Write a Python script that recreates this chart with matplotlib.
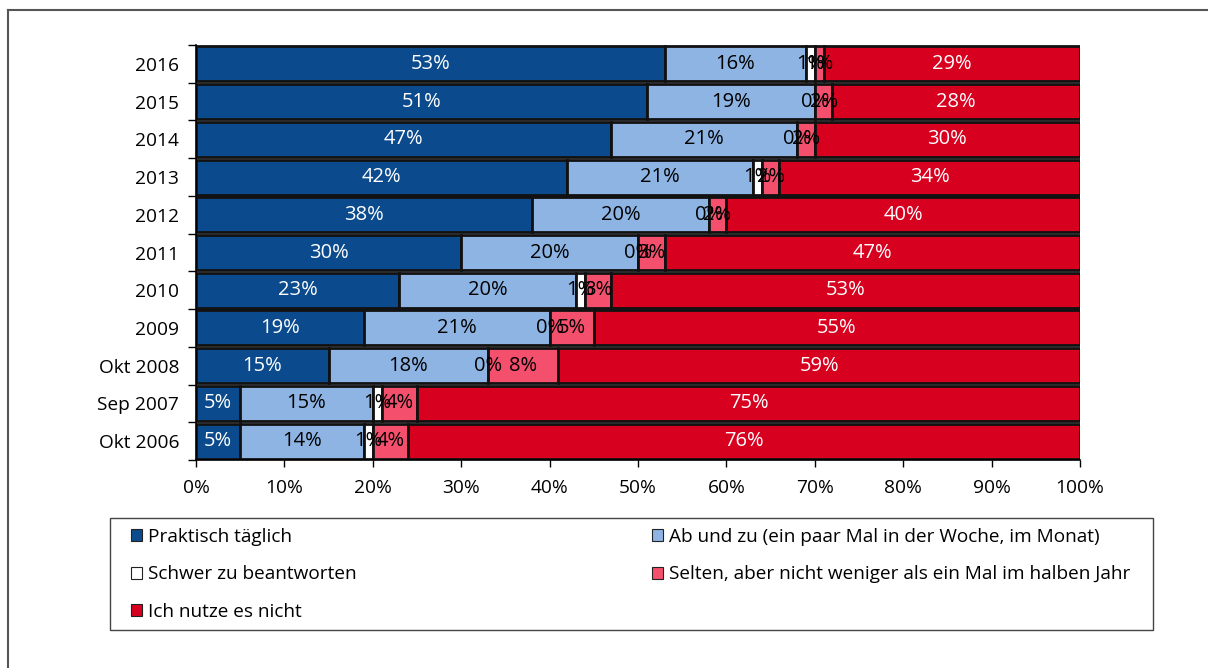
import matplotlib
matplotlib.use("Agg")
import matplotlib.pyplot as plt
from matplotlib.lines import Line2D
from matplotlib.patches import Patch, Rectangle
import numpy as np

plt.rcParams['font.family'] = ['Open Sans', 'DejaVu Sans']

YEARS = ['2016', '2015', '2014', '2013', '2012', '2011', '2010', '2009',
         'Okt 2008', 'Sep 2007', 'Okt 2006']

TAEGLICH = [53, 51, 47, 42, 38, 30, 23, 19, 15, 5, 5]
AB_UND_ZU = [16, 19, 21, 21, 20, 20, 20, 21, 18, 15, 14]
SCHWER = [1, 0, 0, 1, 0, 0, 1, 0, 0, 1, 1]
SELTEN = [1, 2, 2, 2, 2, 3, 3, 5, 8, 4, 4]
NICHT = [29, 28, 30, 34, 40, 47, 53, 55, 59, 75, 76]

SERIES = [
    ('Praktisch täglich', TAEGLICH, '#0B4A8C', 'white'),
    ('Ab und zu (ein paar Mal in der Woche, im Monat)', AB_UND_ZU, '#8DB4E3', 'black'),
    ('Schwer zu beantworten', SCHWER, '#FFFFFF', 'black'),
    ('Selten, aber nicht weniger als ein Mal im halben Jahr', SELTEN, '#F4506D', 'black'),
    ('Ich nutze es nicht', NICHT, '#D7001F', 'white'),
]

W, H = 1208, 668
fig = plt.figure(figsize=(W / 100, H / 100), dpi=100)
ax = fig.add_axes([196 / W, 1 - 460 / H, (1080 - 196) / W, (460 - 45) / H])

y = np.arange(len(YEARS))
left = np.zeros(len(YEARS))
for name, vals, color, tcol in SERIES:
    vals = np.array(vals, dtype=float)
    ax.barh(y, vals, left=left, height=0.93, color=color,
            edgecolor='#111111', linewidth=2.0, label=name, zorder=2)
    for yi, v, l in zip(y, vals, left):
        ax.text(l + v / 2, yi, f'{int(v)}%', ha='center', va='center',
                color=tcol, fontsize=14.5, zorder=4)
    left += vals

ax.set_ylim(len(YEARS) - 0.5, -0.5)
ax.set_xlim(0, 100)
ax.set_xticks(np.arange(0, 101, 10))
ax.set_xticklabels([f'{t}%' for t in range(0, 101, 10)], fontsize=13.8)
ax.set_yticks(y)
ax.set_yticklabels(YEARS, fontsize=13.8)
ax.set_yticks(np.arange(-0.5, len(YEARS)), minor=True)
ax.tick_params(axis='y', which='major', length=0, pad=12)
ax.tick_params(axis='y', which='minor', length=6, width=1, direction='out')
ax.tick_params(axis='x', length=5, width=1, direction='out', pad=9)
for s in ['top', 'right']:
    ax.spines[s].set_visible(False)
for s in ['left', 'bottom']:
    ax.spines[s].set_linewidth(1.2)
    ax.spines[s].set_zorder(3)

# legend box drawn separately so the columns can sit where they should
fig.add_artist(Rectangle((110 / W, 1 - 630 / H), (1153 - 110) / W, 112 / H,
                         transform=fig.transFigure, facecolor='none',
                         edgecolor='#444444', linewidth=1.0))

# legend: row-major order across two columns
handles = [Patch(facecolor=c, edgecolor='#222222', linewidth=0.8, label=n)
           for n, _, c, _ in SERIES]
order = [0, 2, 4, 1, 3]
leg = fig.legend([handles[i] for i in order], [SERIES[i][0] for i in order],
                 ncol=2, loc='upper left', bbox_to_anchor=(131 / W, 1 - 528 / H),
                 fontsize=13.7, frameon=False, borderpad=0, borderaxespad=0,
                 labelspacing=1.02, columnspacing=15.5,
                 handlelength=0.6, handleheight=0.6, handletextpad=0.3)

# outer frame
fig.add_artist(Line2D([8 / W, 1], [1 - 10 / H, 1 - 10 / H], color='#555555', lw=1.5))
fig.add_artist(Line2D([8 / W, 8 / W], [1 - 10 / H, 0], color='#555555', lw=1.5))

fig.savefig('out.png', dpi=100)
